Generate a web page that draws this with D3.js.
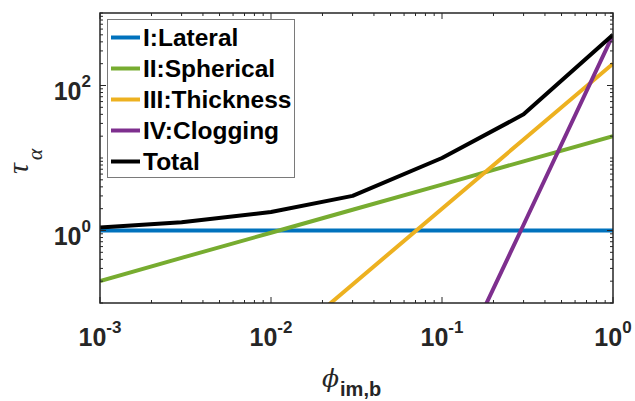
<!DOCTYPE html>
<html>
<head>
<meta charset="utf-8">
<script src="https://cdn.jsdelivr.net/npm/d3@7"></script>
<style>
  body { margin: 0; background: #fff; }
  text { font-family: "Liberation Sans", Arial, sans-serif; }
</style>
</head>
<body>
<svg id="chart" width="635" height="401"></svg>
<script>
// values (log-log)
const phi = [0.001, 0.003, 0.01, 0.03, 0.1, 0.3, 1];
const lateral = [1, 1, 1, 1, 1, 1, 1];
const spherical = [0.2, 0.42, 0.93, 1.93, 4.3, 9.0, 20];
const thickness = [0.0002, 0.0018, 0.02, 0.18, 2, 18, 200];
const clogging = [5e-13, 1.2e-10, 5e-8, 1.2e-5, 0.005, 1.2, 500];
const total = [1.1, 1.3, 1.8, 3.0, 10, 40, 500];

const seriesNames = ["I:Lateral", "II:Spherical", "III:Thickness", "IV:Clogging", "Total"];
const seriesColors = ["#0072BD", "#77AC30", "#EDB120", "#7E2F8E", "#000000"];
const seriesValues = [lateral, spherical, thickness, clogging, total];

const xMajor = [-3, -2, -1, 0];
const yMajor = [0, 2];

const svg = d3.select("#chart");
const margin = {left: 100, right: 22, top: 13, bottom: 98};
const W = 635, H = 401;
const x = d3.scaleLog().domain([1e-3, 1]).range([margin.left, W - margin.right]);
const y = d3.scaleLog().domain([0.1, 1000]).range([H - margin.bottom, margin.top]);
const axisColor = "#262626";

svg.append("clipPath").attr("id", "clip")
  .append("rect")
  .attr("x", margin.left).attr("y", margin.top)
  .attr("width", W - margin.left - margin.right)
  .attr("height", H - margin.top - margin.bottom);

// lines
const line = d3.line().x((d, i) => x(phi[i])).y(d => y(d));
const plot = svg.append("g").attr("clip-path", "url(#clip)");
seriesValues.forEach((vals, k) => {
  plot.append("path")
    .datum(vals)
    .attr("d", line)
    .attr("fill", "none")
    .attr("stroke", seriesColors[k])
    .attr("stroke-width", 4)
    .attr("stroke-linejoin", "round");
});

// ticks on all four sides
const x0 = margin.left, x1 = W - margin.right, y0 = H - margin.bottom, y1 = margin.top;
const tickG = svg.append("g").attr("stroke", axisColor).attr("stroke-width", 1);
const xTicks = [];
for (let e = -3; e < 0; e++) for (let j = 1; j < 10; j++) xTicks.push({v: j * Math.pow(10, e), major: j === 1});
xTicks.push({v: 1, major: true});
xTicks.forEach(t => {
  const px = x(t.v), len = t.major ? 6 : 3;
  tickG.append("line").attr("x1", px).attr("x2", px).attr("y1", y0).attr("y2", y0 - len);
  tickG.append("line").attr("x1", px).attr("x2", px).attr("y1", y1).attr("y2", y1 + len);
});
const yTicks = [];
for (let e = -1; e < 3; e++) for (let j = 1; j < 10; j++) {
  const v = j * Math.pow(10, e);
  yTicks.push({v: v, major: j === 1 && yMajor.includes(e)});
}
yTicks.push({v: 1000, major: false});
yTicks.forEach(t => {
  const py = y(t.v), len = t.major ? 6 : 3;
  tickG.append("line").attr("y1", py).attr("y2", py).attr("x1", x0).attr("x2", x0 + len);
  tickG.append("line").attr("y1", py).attr("y2", py).attr("x1", x1).attr("x2", x1 - len);
});

// frame
svg.append("rect")
  .attr("x", x0).attr("y", y1)
  .attr("width", x1 - x0).attr("height", y0 - y1)
  .attr("fill", "none").attr("stroke", axisColor).attr("stroke-width", 1.5);

// tick labels
xMajor.forEach(e => {
  const t = svg.append("text")
    .attr("x", x(Math.pow(10, e))).attr("y", 346)
    .attr("text-anchor", "middle")
    .attr("fill", axisColor).attr("font-weight", "bold").attr("font-size", 25);
  t.append("tspan").text("10");
  t.append("tspan").attr("dy", -13).attr("font-size", 17).text(e);
});
yMajor.forEach(e => {
  const t = svg.append("text")
    .attr("x", 91).attr("y", y(Math.pow(10, e)) + 14)
    .attr("text-anchor", "end")
    .attr("fill", axisColor).attr("font-weight", "bold").attr("font-size", 25);
  t.append("tspan").text("10");
  t.append("tspan").attr("dy", -13).attr("font-size", 17).text(e);
});

// axis labels
const xl = svg.append("text").attr("x", 322).attr("y", 387).attr("fill", axisColor);
xl.append("tspan").attr("font-family", "DejaVu Serif, serif").attr("font-style", "italic")
  .attr("font-size", 25).text("\u03D5");
xl.append("tspan").attr("dy", 9).attr("dx", 1).attr("font-weight", "bold").attr("font-size", 20).text("im,b");

const yl = svg.append("text").attr("transform", "translate(28,174) rotate(-90)").attr("fill", axisColor);
yl.append("tspan").attr("font-family", "Liberation Serif, serif").attr("font-style", "italic")
  .attr("font-size", 30).text("\u03C4");
yl.append("tspan").attr("dx", 3).attr("dy", 14).attr("font-family", "Liberation Serif, serif")
  .attr("font-style", "italic").attr("font-size", 22).text("\u03B1");

// legend
const lg = svg.append("g");
lg.append("rect")
  .attr("x", 107.5).attr("y", 19.5).attr("width", 187).attr("height", 158)
  .attr("fill", "#fff").attr("stroke", "#7a7a7a").attr("stroke-width", 1);
seriesNames.forEach((name, k) => {
  const cy = 37.5 + k * 31;
  lg.append("line")
    .attr("x1", 111).attr("x2", 140).attr("y1", cy).attr("y2", cy)
    .attr("stroke", seriesColors[k]).attr("stroke-width", 4);
  lg.append("text")
    .attr("x", 143).attr("y", cy + 8.5)
    .attr("font-weight", "bold").attr("font-size", 24.5).attr("fill", "#000")
    .text(name);
});
</script>
</body>
</html>
